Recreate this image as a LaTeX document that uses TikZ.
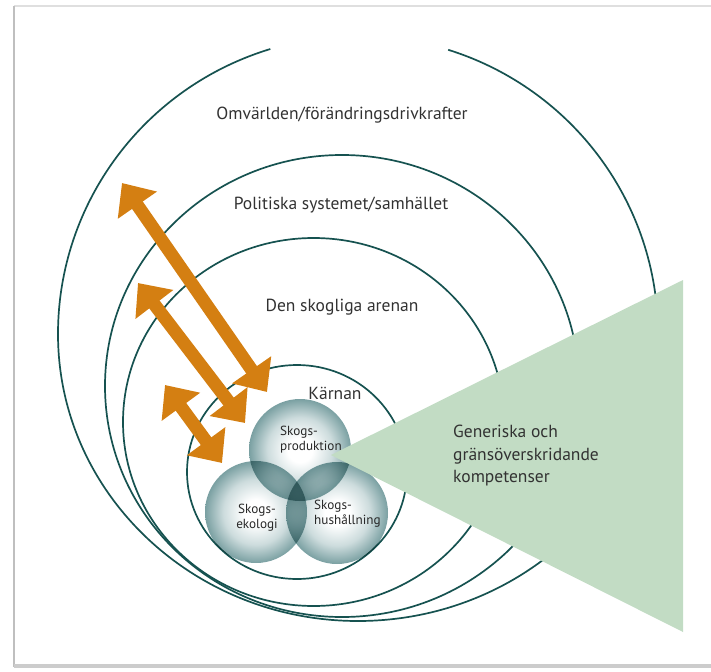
\documentclass[tikz,border=0pt]{standalone}
\usepackage{fontspec}
\setmainfont{PT Sans}
\usetikzlibrary{arrows.meta}
\definecolor{ringc}{RGB}{22,82,80}
\definecolor{arrowc}{RGB}{212,127,18}
\definecolor{trig}{RGB}{194,220,196}
\definecolor{venn}{RGB}{122,160,162}
\definecolor{vennmid}{RGB}{205,220,221}
\definecolor{txt}{RGB}{50,50,50}
\pgfdeclareradialshading{vennshade}{\pgfpoint{0bp}{0bp}}{color(0bp)=(white); color(6bp)=(white); color(16bp)=(vennmid); color(25bp)=(venn); color(50bp)=(venn)}
\begin{document}
\begin{tikzpicture}[x=1pt,y=-1pt,
  ring/.style={draw=ringc,line width=1.7pt},
  dblarrow/.style={draw=arrowc,line width=13pt,{Triangle[width=46pt,length=27pt,fill=arrowc]}-{Triangle[width=46pt,length=27pt,fill=arrowc]}},
  lbl/.style={text=txt,font=\fontsize{17.5}{22.5}\selectfont,inner sep=0pt},
  vlbl/.style={text=txt!80!black,font=\fontsize{13.2}{15}\selectfont,inner sep=0pt},
  venncirc/.style={circle,shade,shading=vennshade,minimum size=102pt,inner sep=0pt}]
\useasboundingbox (0,0) rectangle (711,671);
% frame
\draw[gray!25,line width=2pt] (14,6) -- (711,6);
\draw[gray!50,line width=2pt] (14,667) -- (14,6);
\draw[gray!40,line width=4pt] (14,666) -- (711,666);
% rings
\draw[ring] (358,334) ++(107:300pt and 298pt)
  arc[start angle=107,end angle=180,x radius=300pt,y radius=298pt]
  arc[start angle=180,end angle=360,x radius=300pt,y radius=287pt]
  arc[start angle=0,end angle=72.5,x radius=300pt,y radius=298pt];
\draw[ring] (342,386) ellipse[x radius=237pt,y radius=231pt];
\draw[ring] (313.6,422) ellipse[x radius=190.6pt,y radius=184pt];
\draw[ring] (297,472) ellipse[x radius=110pt,y radius=107pt];
% venn
\begin{scope}[blend mode=multiply]
\node[venncirc] (prod) at (300,450) {};
\node[venncirc] (eko) at (256,512) {};
\node[venncirc] (hus) at (337,513) {};
\end{scope}
% triangle
\coordinate (tA) at (331,455);
\coordinate (tB) at (683,280);
\coordinate (tC) at (683,632);
\fill[trig] (tA) -- (tB) -- (tC) -- cycle;
% arrows
\coordinate (a1s) at (122,183); \coordinate (a1e) at (267,392);
\coordinate (a2s) at (138,283); \coordinate (a2e) at (245,423);
\coordinate (a3s) at (165,385); \coordinate (a3e) at (222,463);
\draw[dblarrow] (a1s) -- (a1e);
\draw[dblarrow] (a2s) -- (a2e);
\draw[dblarrow] (a3s) -- (a3e);
% labels
\node[lbl] (omv) at (342,115) {Omvärlden/förändringsdrivkrafter};
\node[lbl] (pol) at (341,205) {Politiska systemet/samhället};
\node[lbl] (den) at (342,307) {Den skogliga arenan};
\node[lbl] (kar) at (335,393) {Kärnan};
\node[lbl,align=left,anchor=west] (gen) at (453,456) {Generiska och\\gränsöverskridande\\kompetenser};
\node[vlbl,align=left,anchor=west] (tprod) at (280,440) {Skogs-\\produktion};
\node[vlbl,align=center] (teko) at (257,518) {Skogs-\\ekologi};
\node[vlbl,align=left,anchor=west] (thus) at (314,514) {Skogs-\\hushållning};
\end{tikzpicture}
\end{document}
